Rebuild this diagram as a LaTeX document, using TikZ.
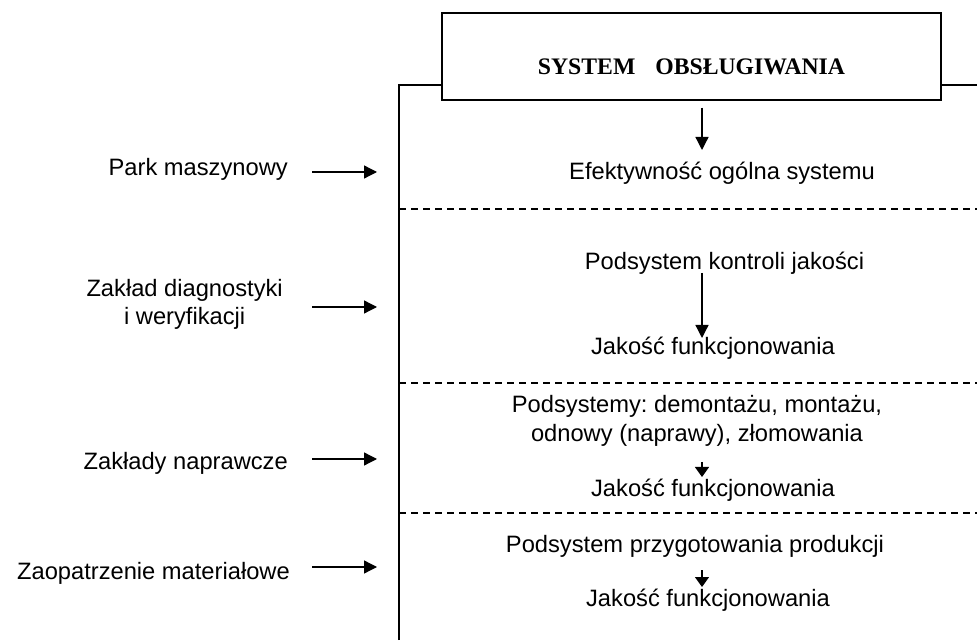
\documentclass[tikz,border=0pt]{standalone}
\usepackage{fontspec}
\setmainfont{Liberation Sans}
\newfontfamily\titlefont{Liberation Serif}
\usepackage{tikz}
\usetikzlibrary{arrows.meta}
\frenchspacing
\tikzset{
  lbl/.style   = {inner sep=0pt, align=center, font=\fontsize{23.7}{28.5}\selectfont},
  sysb/.style  = {draw, line width=1.4pt, minimum width=499pt, minimum height=87pt,
                  inner sep=0pt, text height=37pt, text depth=0pt,
                  font=\titlefont\bfseries\fontsize{23.7}{28}\selectfont},
  ar/.style    = {-{Triangle[length=13pt,width=13pt]}, line width=1.3pt},
  ars/.style   = {-{Triangle[length=10pt,width=14pt]}, line width=1.3pt},
  sep/.style   = {line width=1.2pt, dash pattern=on 7pt off 5pt},
  frame/.style = {line width=1.4pt},
}

\begin{document}
\begin{tikzpicture}[x=1pt,y=1pt]
\useasboundingbox (0,0) rectangle (977,640);

% -- system box and the open frame below it ---------------------------------
\node[sysb] (sys) at (691.5,583.5) {SYSTEM\hspace{20pt}OBSŁUGIWANIA};
\coordinate (ftop) at (399,555);
\draw[frame] (399,0) -- (ftop) -- (sys.west |- ftop);
\draw[frame] (sys.east |- ftop) -- (977,555);

% -- dashed separators --------------------------------------------------------
\foreach \y in {431,257,127}
  \draw[sep] (399,\y) -- (977,\y);

% -- texts inside the frame (base = last line) --------------------------------
\node[lbl, anchor=base] (eff)    at (722,460)   {Efektywność ogólna systemu};
\node[lbl, anchor=base] (kontr)  at (724.5,370) {Podsystem kontroli jakości};
\node[lbl, anchor=base] (jak1)   at (713,285)   {Jakość funkcjonowania};
\node[lbl, anchor=base] (demont) at (697,198.5) {Podsystemy: demontażu, montażu,\\ odnowy (naprawy), złomowania};
\node[lbl, anchor=base] (jak2)   at (713,143.3) {Jakość funkcjonowania};
\node[lbl, anchor=base] (przyg)  at (695,87)    {Podsystem przygotowania produkcji};
\node[lbl, anchor=base] (jak3)   at (708,33.3)  {Jakość funkcjonowania};

% -- arrows down --------------------------------------------------------------
\coordinate (ax) at (702,0);
\draw[ar]  ([yshift=-7pt]sys.south -| ax)      -- ([yshift=30pt]eff.base -| ax);
\draw[ar]  ([yshift=-3pt]kontr.base -| ax)     -- ([yshift=17pt]jak1.base -| ax);
\draw[ars] ([yshift=-20.5pt]demont.base -| ax) -- ([yshift=19.7pt]jak2.base -| ax);
\draw[ars] ([yshift=-17pt]przyg.base -| ax)    -- ([yshift=19.7pt]jak3.base -| ax);

% -- inputs on the left -------------------------------------------------------
\node[lbl, anchor=base east] (park) at (288,464) {Park maszynowy};
\node[lbl, anchor=base east] (diag) at (283,315) {Zakład diagnostyki\\ i weryfikacji};
\node[lbl, anchor=base east] (napr) at (288,170) {Zakłady naprawcze};
\node[lbl, anchor=base east] (zaop) at (290,60)  {Zaopatrzenie materiałowe};

\coordinate (x0) at (312,0);
\coordinate (x1) at (377,0);
\foreach \n/\dy in {park/4,diag/18,napr/11,zaop/13}
  \draw[ar] ([yshift=\dy pt]\n.base -| x0) -- ([yshift=\dy pt]\n.base -| x1);
\end{tikzpicture}
\end{document}
